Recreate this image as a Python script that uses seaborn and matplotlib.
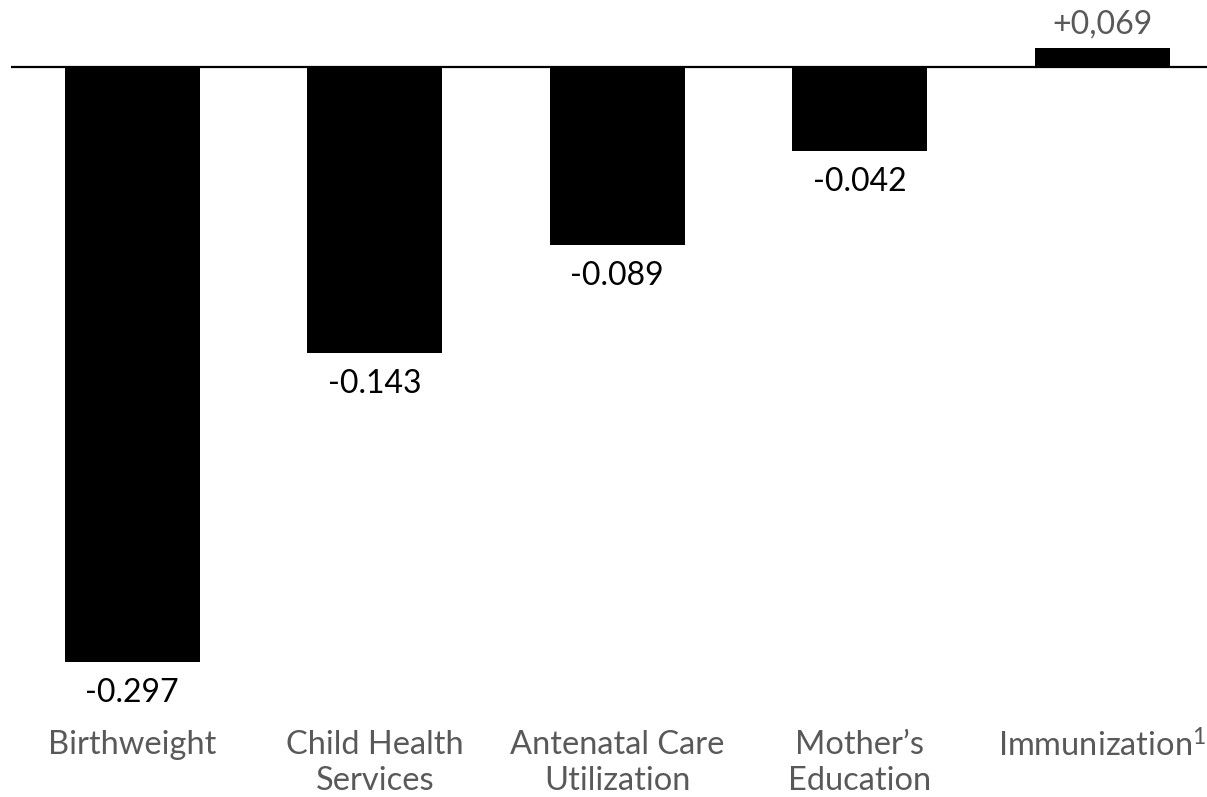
import matplotlib
matplotlib.use("Agg")
import matplotlib.pyplot as plt
import seaborn as sns
import pandas as pd

# Effect estimates per determinant
categories = ["Birthweight", "Child Health\nServices", "Antenatal Care\nUtilization",
              "Mother\u2019s\nEducation", "Immunization$^1$"]
values = [-0.297, -0.143, -0.089, -0.042, 0.069]
value_labels = ["-0.297", "-0.143", "-0.089", "-0.042", "+0,069"]

sns.set_theme(style="white")
plt.rcParams["font.family"] = ["Lato", "DejaVu Sans"]
plt.rcParams["mathtext.fontset"] = "custom"
plt.rcParams["mathtext.rm"] = "Lato"
plt.rcParams["mathtext.it"] = "Lato"
plt.rcParams["mathtext.bf"] = "Lato:bold"

W, H = 1207, 797
fig = plt.figure(figsize=(W / 100, H / 100), dpi=100)

# axes geometry in pixels
left_px, top_px, bottom_px = 11, 48, 705
slot_px = 242.5
zero_px = 67
scale = 2002.0  # pixels per unit

ax = fig.add_axes([left_px / W, 1 - bottom_px / H, (W - left_px) / W, (bottom_px - top_px) / H])

df = pd.DataFrame({"category": categories, "value": values})
sns.barplot(data=df, x="category", y="value", color="black", saturation=1,
            width=0.557, ax=ax, edgecolor="black", linewidth=0)

ax.set_xlim(-0.5, -0.5 + (W - left_px) / slot_px)
ax.set_ylim(-(bottom_px - zero_px) / scale, (zero_px - top_px) / scale)
ax.axhline(0, color="black", lw=1.6, zorder=3)

for s in ax.spines.values():
    s.set_visible(False)
ax.set_yticks([])
ax.set_xlabel("")
ax.set_ylabel("")
ax.tick_params(axis="x", length=0, pad=18, labelsize=23.5, labelcolor="#595959")
for t in ax.get_xticklabels():
    t.set_linespacing(1.25)

ytop = ax.get_ylim()[1]
for i, (v, lab) in enumerate(zip(values, value_labels)):
    if v < 0:
        ax.annotate(lab, xy=(i, v), xytext=(0, -11.5), textcoords="offset points",
                    ha="center", va="top", fontsize=23, color="black")
    else:
        ax.annotate(lab, xy=(i, ytop), xytext=(0, 6), textcoords="offset points",
                    ha="center", va="bottom", fontsize=23, color="#595959",
                    annotation_clip=False)

fig.savefig("out.png", dpi=100)
